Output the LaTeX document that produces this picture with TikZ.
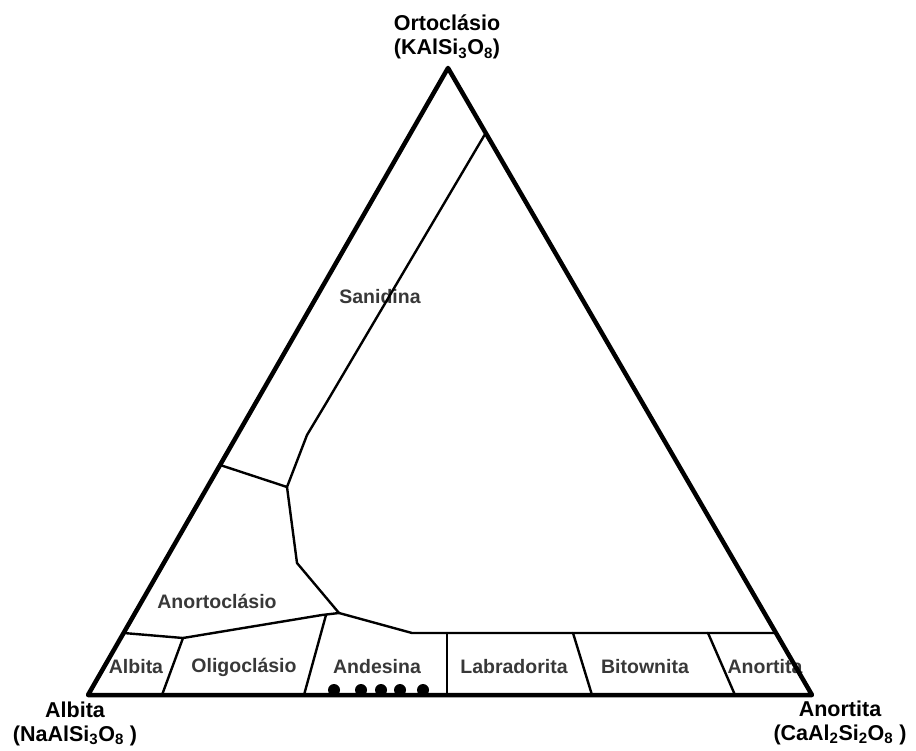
\documentclass[tikz,border=0pt]{standalone}
\usepackage{fontspec}
\setmainfont{Liberation Sans}
\begin{document}
\begin{tikzpicture}[x=1pt,y=-1pt,line join=round,line cap=round,
  inner/.style={draw=black,line width=2.4pt},
  outer/.style={draw=black,line width=4.5pt},
  region/.style={text=black!78,font=\bfseries\fontsize{19.5}{22}\selectfont,inner sep=0pt},
  corner/.style={text=black,font=\bfseries\fontsize{21.5}{24}\selectfont,inner sep=0pt,align=center},
  dot/.style={fill=black,draw=none}]
\useasboundingbox (0,0) rectangle (916,751);
% vertices
\coordinate (O) at (448,68);
\coordinate (A) at (88,695);
\coordinate (C) at (812,695);
% boundary points
\coordinate (s1) at (485.7,133);
\coordinate (s2) at (328,400);
\coordinate (s3) at (307,435);
\coordinate (j1) at (287,487);
\coordinate (l1) at (220.1,465);
\coordinate (j2) at (297,563);
\coordinate (j3) at (339,613);
\coordinate (m1) at (412,633);
\coordinate (r1) at (776,633);
\coordinate (k1) at (322,615);
\coordinate (k2) at (183,638);
\coordinate (l2) at (123.6,633);
% separators
\coordinate (a1) at (183,638);  \coordinate (a2) at (162,695);
\coordinate (o1) at (326,615);  \coordinate (o2) at (304,695);
\coordinate (n1) at (447,633);  \coordinate (n2) at (447,695);
\coordinate (b1) at (573,633);  \coordinate (b2) at (592,695);
\coordinate (t1) at (708,633);  \coordinate (t2) at (735,695);
% labels
\node[region] (san) at (380,297) {Sanidina};
\node[region] (ano) at (217,601) {Anortoclásio};
\node[region] (alb) at (136,667) {Albita};
\node[region] (oli) at (244,667) {Oligoclásio};
\node[region] (and) at (377,667) {Andesina};
\node[region] (lab) at (514,667) {Labradorita};
\node[region] (bit) at (645,667) {Bitownita};
\node[region] (ant) at (765,667) {Anortita};
% inner lines
\draw[inner] (s1) -- (s2) -- (s3) -- (j1) -- (j2) -- (j3) -- (m1) -- (r1);
\draw[inner] (l1) -- (j1);
\draw[inner] (j3) -- (k1) -- (k2) -- (l2);
\draw[inner] (a1) -- (a2);
\draw[inner] (o1) -- (o2);
\draw[inner] (n1) -- (n2);
\draw[inner] (b1) -- (b2);
\draw[inner] (t1) -- (t2);
% dots
\fill[dot] (334,690) circle (6);
\fill[dot] (361,690) circle (6);
\fill[dot] (381,690) circle (6);
\fill[dot] (400,690) circle (6);
\fill[dot] (423,690) circle (6);
% outline
\draw[outer] (O) -- (A) -- (C) -- cycle;
% corner labels
\node[corner] (lo) at (447,37) {Ortoclásio\\(KAlSi\textsubscript{3}O\textsubscript{8})};
\node[corner] (la) at (75,724) {Albita\\(NaAlSi\textsubscript{3}O\textsubscript{8} )};
\node[corner] (lc) at (840,723) {Anortita\\(CaAl\textsubscript{2}Si\textsubscript{2}O\textsubscript{8} )};
\end{tikzpicture}
\end{document}
